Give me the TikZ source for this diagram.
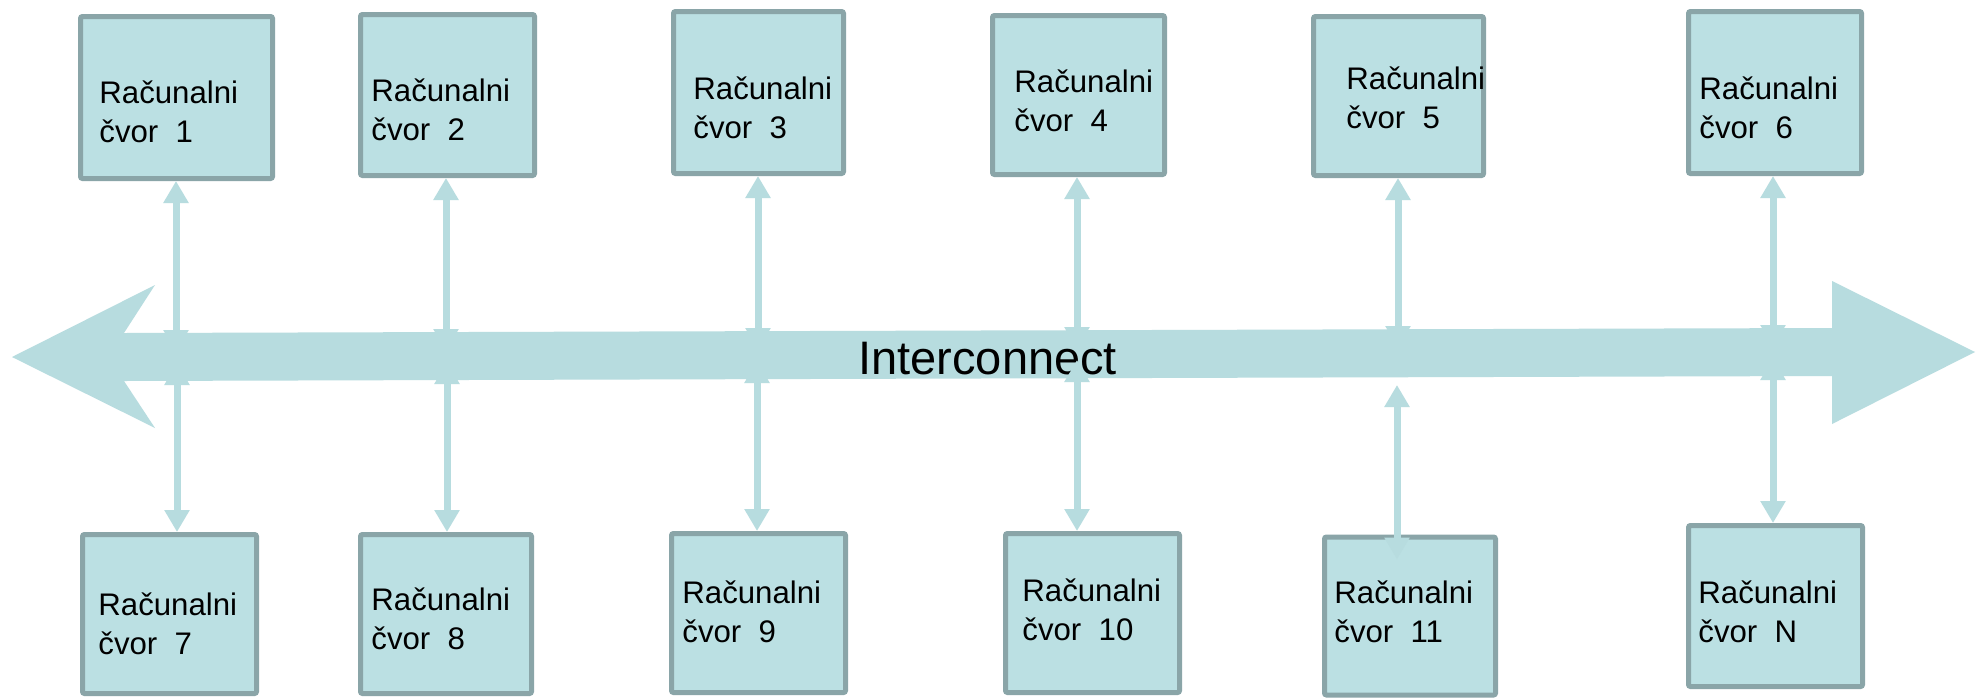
\documentclass[tikz,border=0pt]{standalone}
\usepackage{fontspec}
\setmainfont{Liberation Sans}
\usetikzlibrary{arrows.meta}
\definecolor{boxfill}{HTML}{BBE0E3}
\definecolor{boxline}{HTML}{8AA5A8}
\definecolor{busfill}{HTML}{B7DCDF}
\begin{document}
\begin{tikzpicture}[x=0.5pt,y=-0.5pt,
  nodebox/.style={draw=boxline, fill=boxfill, line width=2.5pt, rounded corners=1pt, inner sep=0pt},
  lbl/.style={anchor=base west, align=left, inner sep=0pt, font=\fontsize{15.6}{19.5}\selectfont},
  conn/.style={draw=busfill, line width=3.5pt, {Triangle[width=12pt,length=11pt]}-{Triangle[width=12pt,length=11pt]}}]
\fill[white] (0,0) rectangle (1980,697);
\useasboundingbox (0,0) rectangle (1980,697);
% bus
\fill[busfill] (12,357) -- (155,285) -- (124,333) -- (1832,328) -- (1832,281) -- (1975,352)
  -- (1832,424) -- (1832,376) -- (124,381) -- (155,428) -- cycle;
\node[anchor=base west, inner sep=0pt, font=\fontsize{23.5}{28}\selectfont] (ic) at (858,374) {Interconnect};
% top boxes
\node[nodebox, minimum width=96pt, minimum height=81pt] (n1) at (176.5,97.5) {};
\node[nodebox, minimum width=87pt, minimum height=80.5pt] (n2) at (447.5,95) {};
\node[nodebox, minimum width=85pt, minimum height=81pt] (n3) at (758.5,92.5) {};
\node[nodebox, minimum width=86pt, minimum height=79.5pt] (n4) at (1078.5,95) {};
\node[nodebox, minimum width=85pt, minimum height=79.5pt] (n5) at (1398.5,96) {};
\node[nodebox, minimum width=86.5pt, minimum height=81pt] (n6) at (1775,92.5) {};
% bottom boxes
\node[nodebox, minimum width=87pt, minimum height=79.5pt] (n7) at (169.5,614) {};
\node[nodebox, minimum width=85.5pt, minimum height=79.5pt] (n8) at (446,614) {};
\node[nodebox, minimum width=87pt, minimum height=79.5pt] (n9) at (758.5,613) {};
\node[nodebox, minimum width=87pt, minimum height=79.5pt] (n10) at (1092.5,613) {};
\node[nodebox, minimum width=85.5pt, minimum height=79pt] (n11) at (1410,616) {};
\node[nodebox, minimum width=87pt, minimum height=80.5pt] (n12) at (1775.5,606) {};
% labels (anchor = baseline of the second line)
\node[lbl] (l1) at (99,142) {Računalni\\čvor~~1};
\node[lbl] (l2) at (371,140) {Računalni\\čvor~~2};
\node[lbl] (l3) at (693,138) {Računalni\\čvor~~3};
\node[lbl] (l4) at (1014,131) {Računalni\\čvor~~4};
\node[lbl] (l5) at (1346,128) {Računalni\\čvor~~5};
\node[lbl] (l6) at (1699,138) {Računalni\\čvor~~6};
\node[lbl] (l7) at (98,654) {Računalni\\čvor~~7};
\node[lbl] (l8) at (371,649) {Računalni\\čvor~~8};
\node[lbl] (l9) at (682,642) {Računalni\\čvor~~9};
\node[lbl] (l10) at (1022,640) {Računalni\\čvor~~10};
\node[lbl] (l11) at (1334,642) {Računalni\\čvor~~11};
\node[lbl] (l12) at (1698,642) {Računalni\\čvor~~N};
% bus attachment points
\coordinate (b1) at (176,352);
\coordinate (b2) at (446,351);
\coordinate (b3) at (758,350);
\coordinate (b4) at (1077,349);
\coordinate (b5) at (1398,348);
\coordinate (b6) at (1773,347);
\coordinate (b7) at (177,363);
\coordinate (b8) at (447,362);
\coordinate (b9) at (757,361);
\coordinate (b10) at (1077,360);
\coordinate (b11) at (1397,385);
\coordinate (b12) at (1773,358);
\path (n11.north -| b11) ++(0,25) coordinate (e11);
% connectors
\draw[conn] (n1.south -| b1) -- (b1);
\draw[conn] (n2.south -| b2) -- (b2);
\draw[conn] (n3.south -| b3) -- (b3);
\draw[conn] (n4.south -| b4) -- (b4);
\draw[conn] (n5.south -| b5) -- (b5);
\draw[conn] (n6.south -| b6) -- (b6);
\draw[conn] (b7) -- (n7.north -| b7);
\draw[conn] (b8) -- (n8.north -| b8);
\draw[conn] (b9) -- (n9.north -| b9);
\draw[conn] (b10) -- (n10.north -| b10);
\draw[conn] (b11) -- (e11);
\draw[conn] (b12) -- (n12.north -| b12);
\end{tikzpicture}
\end{document}
